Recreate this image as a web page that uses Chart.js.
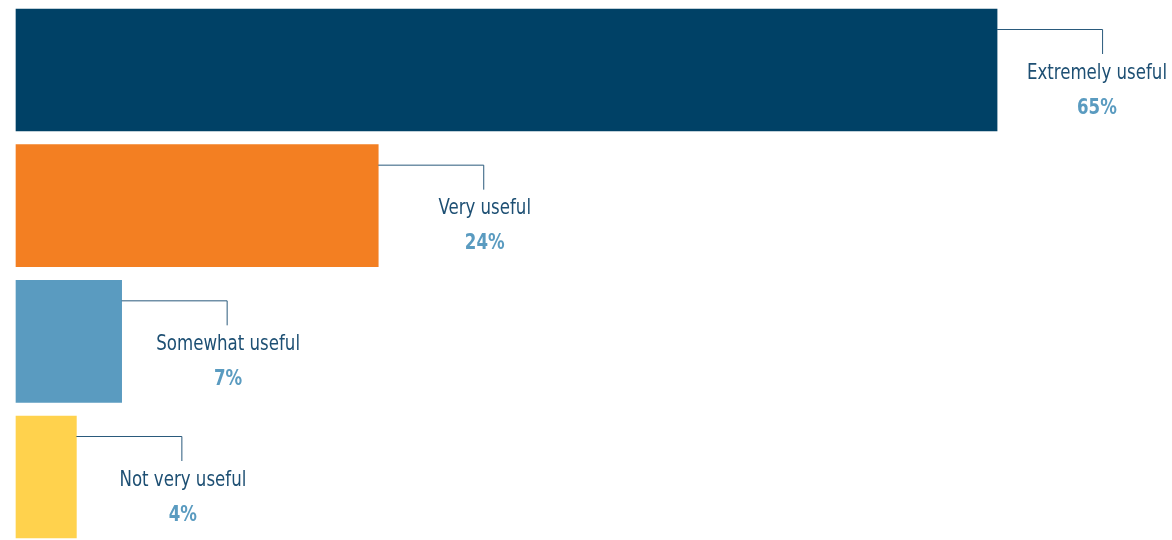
<!DOCTYPE html>
<html>
<head>
<meta charset="utf-8">
<script src="https://cdn.jsdelivr.net/npm/chart.js@4/dist/chart.umd.min.js"></script>
<style>
  html, body { margin: 0; padding: 0; background: #fff; }
  #wrap { width: 1172px; height: 540px; position: relative; }
</style>
</head>
<body>
<div id="wrap"><canvas id="usefulChart"></canvas></div>
<script>
const categories = ['Extremely useful', 'Very useful', 'Somewhat useful', 'Not very useful'];
const shares = [65, 24, 7, 4];
const barColors = ['#004166', '#f37f22', '#5a9bc0', '#ffd24d'];

const labelFont = '"DejaVu Sans Condensed", "Liberation Sans Narrow", sans-serif';
const SQUEEZE = 0.84;

// draw text squeezed horizontally to get a condensed look
function narrowText(ctx, text, x, y) {
    ctx.save();
    ctx.translate(x, y);
    ctx.scale(SQUEEZE, 1);
    ctx.fillText(text, 0, 0);
    ctx.restore();
}

// callout: short leader line off the bar end, then name + percent underneath
const calloutPlugin = {
    id: 'callouts',
    afterDatasetsDraw(chart) {
        const ctx = chart.ctx;
        const meta = chart.getDatasetMeta(0);
        meta.data.forEach((bar, i) => {
            const top = bar.y - bar.height / 2;
            const lineY = top + 20;
            const elbowX = bar.x + 105;

            ctx.save();
            ctx.strokeStyle = '#2a5a7c';
            ctx.lineWidth = 1;
            ctx.beginPath();
            ctx.moveTo(bar.x, lineY + 0.5);
            ctx.lineTo(elbowX + 0.5, lineY + 0.5);
            ctx.lineTo(elbowX + 0.5, lineY + 25);
            ctx.stroke();

            ctx.textAlign = 'center';
            ctx.textBaseline = 'middle';
            ctx.font = '22px ' + labelFont;
            // keep the label inside the canvas on the long bar
            const half = ctx.measureText(categories[i]).width * SQUEEZE / 2;
            const cx = Math.min(elbowX + 1.5, chart.width - 5 - half);

            ctx.fillStyle = '#1d4f73';
            narrowText(ctx, categories[i], cx, top + 64);
            ctx.fillStyle = '#5a9bc0';
            ctx.font = 'bold 22px ' + labelFont;
            narrowText(ctx, shares[i] + '%', cx, top + 99);
            ctx.restore();
        });
    }
};

new Chart(document.getElementById('usefulChart'), {
    type: 'bar',
    data: {
        labels: categories,
        datasets: [{
            data: shares,
            backgroundColor: barColors,
            borderWidth: 0,
            barThickness: 122,
            clip: false
        }]
    },
    options: {
        indexAxis: 'y',
        responsive: true,
        maintainAspectRatio: false,
        animation: false,
        layout: { padding: { left: 16, right: 24, top: 70, bottom: 63 } },
        scales: {
            x: { display: false, min: 0, max: 75 },
            y: { display: false, offset: false }
        },
        plugins: {
            legend: { display: false },
            tooltip: { enabled: false }
        }
    },
    plugins: [calloutPlugin]
});
</script>
</body>
</html>
